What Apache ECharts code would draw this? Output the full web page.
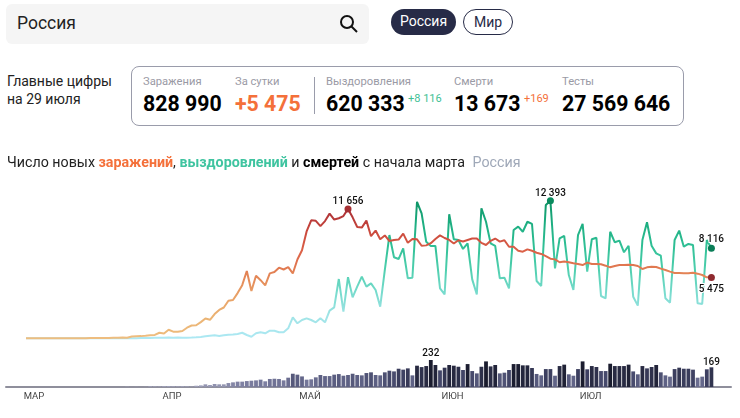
<!DOCTYPE html>
<html>
<head>
<meta charset="utf-8">
<title>Коронавирус</title>
<script src="https://cdn.jsdelivr.net/npm/echarts@6/dist/echarts.min.js"></script>
<style>
  html, body { margin: 0; padding: 0; background: #fff; }
  body { width: 740px; height: 418px; position: relative; overflow: hidden; font-family: Roboto, sans-serif; color: #000; }
  .abs { position: absolute; white-space: nowrap; }
  #chart { position: absolute; left: 0; top: 170px; width: 740px; height: 248px; }
  .search { left: 6px; top: 4px; width: 363px; height: 40px; background: #f5f5f5; border-radius: 6px; }
  .search span { position: absolute; left: 11px; top: 8px; font-size: 17.5px; line-height: 22px; color: #222; }
  .search svg { position: absolute; left: 333px; top: 10px; }
  .btn { top: 9px; height: 26px; line-height: 25px; border-radius: 13px; text-align: center; font-size: 14px; box-sizing: border-box; }
  .on { left: 391px; width: 65px; background: #272b47; color: #fff; }
  .off { left: 463px; width: 50px; border: 1px solid #272b47; color: #272b47; }
  .lead { left: 7px; top: 72px; font-size: 14px; line-height: 18px; color: #222; }
  .box { left: 131px; top: 66px; width: 553px; height: 60px; box-sizing: border-box; border: 1px solid #9a9cab; border-radius: 8px; }
  .sep { left: 314px; top: 77px; width: 1px; height: 37px; background: #9a9cab; }
  .cap { top: 74px; font-size: 11.2px; line-height: 15px; color: #9a9aa5; }
  .num { top: 90px; font-size: 21.3px; line-height: 27px; font-weight: 700; }
  .add { top: 91px; font-size: 11px; line-height: 15px; }
  .head { left: 7px; top: 153px; font-size: 14.25px; line-height: 18px; color: #222; }
  .head b { font-weight: 700; }
</style>
</head>
<body>
<div id="chart"></div>

<div class="abs search">
  <span>Россия</span>
  <svg width="20" height="20" viewBox="0 0 20 20"><circle cx="8" cy="8" r="6" fill="none" stroke="#111" stroke-width="2"/><line x1="12.5" y1="12.5" x2="18" y2="18" stroke="#111" stroke-width="2"/></svg>
</div>
<div class="abs btn on">Россия</div>
<div class="abs btn off">Мир</div>

<div class="abs lead">Главные цифры<br>на 29 июля</div>
<div class="abs box"></div>
<div class="abs sep"></div>
<div class="abs cap" style="left:143px">Заражения</div>
<div class="abs cap" style="left:235px">За сутки</div>
<div class="abs cap" style="left:326px">Выздоровления</div>
<div class="abs cap" style="left:454px">Смерти</div>
<div class="abs cap" style="left:562px">Тесты</div>
<div class="abs num" style="left:143px">828 990</div>
<div class="abs num" style="left:235px;color:#f4703a">+5 475</div>
<div class="abs num" style="left:326px">620 333</div>
<div class="abs add" style="left:408px;color:#3fbf95">+8 116</div>
<div class="abs num" style="left:454px">13 673</div>
<div class="abs add" style="left:524px;color:#f4703a">+169</div>
<div class="abs num" style="left:562px">27 569 646</div>

<div class="abs head">Число новых <b style="color:#f4703a">заражений</b>, <b style="color:#3fc4a0">выздоровлений</b> и <b style="color:#000">смертей</b> с начала марта <span style="color:#9fa8b8;margin-left:4px">Россия</span></div>

<script>
// daily values, 2 march .. 29 july
const cases = [
  0,0,0,1,1,2,4,3,3,4,8,6,14,4,16,19,21,33,28,52,54,71,57,163,182,196,228,270,302,500,
  440,771,601,582,658,954,1154,1175,1459,1786,1667,2186,2558,2774,3388,3448,4070,4785,6060,4268,5642,5236,4774,5849,5966,6361,6198,6411,5841,7099,
  7933,9623,10633,10581,10102,10559,11231,10699,10817,11012,11656,10899,10028,9974,10598,9200,9709,8926,9263,8764,8849,8894,9434,8599,8946,8915,8338,8371,8572,8952,9268,
  9035,8863,8536,8831,8726,8855,8984,8985,8595,8404,8779,8987,8706,8835,8248,8246,7890,7800,8010,7890,7710,7600,7400,7170,7110,6850,6910,6850,6760,6700,
  6600,6814,6693,6693,6663,6543,6393,6513,6603,6603,6633,6603,6513,6243,6393,6453,6423,6273,6153,6003,5883,5883,5853,5853,5913,5823,5703,5492,5475
]
const recovered = [
  0,0,0,0,0,0,0,0,0,0,0,0,0,0,0,1,1,2,2,3,5,8,10,12,15,20,25,30,40,50,
  60,70,60,70,50,60,70,90,120,180,240,270,210,270,330,340,390,500,297,144,450,540,450,685,685,540,540,900,1890,1350,
  1650,1800,1650,1440,1800,1440,2490,2790,5340,2400,5500,3690,4650,5550,4650,4950,4350,2850,6150,9300,7300,7140,8100,5400,5460,12300,11260,8700,8320,8320,4500,
  3960,11170,8920,8850,8050,8560,5310,3960,11710,10500,8560,8320,5400,5460,4500,9760,10060,9600,10500,10300,5160,4710,12000,12393,6300,9000,9220,5700,4350,9300,
  10300,6000,8920,9060,3810,3600,9600,8650,8800,7750,8340,3750,2940,8850,10450,8340,7650,7440,3600,3200,8850,9700,8250,8500,8400,3150,3090,8850,8116
]
const deaths = [
  0,0,0,0,0,0,0,0,0,0,0,0,0,0,0,0,0,0,0,0,0,0,2,0,1,0,1,6,5,4,
  7,8,6,5,7,5,3,11,14,23,17,26,23,23,34,40,46,46,51,54,57,63,49,69,71,69,57,80,114,106,
  91,63,66,83,103,94,94,106,111,97,103,114,103,100,120,126,103,100,126,140,134,157,149,160,100,183,171,180,232,189,143,
  166,189,183,174,146,197,137,117,174,220,177,189,117,123,146,197,197,186,186,163,112,100,154,154,97,180,192,109,97,154,
  220,152,180,172,137,137,200,180,180,180,192,134,109,180,160,172,189,126,100,89,154,166,157,157,149,80,89,152,169
]
const monthTicks = [0, 30, 60, 91, 121]
const monthLabels = ['МАР', 'АПР', 'МАЙ', 'ИЮН', 'ИЮЛ']

const caseColors = ['#eebd7f', '#ebb373', '#e8a066', '#e38355', '#dc6248', '#c9473c', '#aa3037']
const recoveredColors = ['#ade8f3', '#a0e4e6', '#77dbcd', '#4fcfae', '#30c096', '#1dae81', '#0e9466']
const deathColors = ['#a6a8c0', '#7c7ea0', '#5f6285', '#3f4263', '#1a1c2e']

const pairs = arr => arr.map((v, i) => [i, v])
const fmt = v => String(v).replace(/\B(?=(\d{3})+$)/g, '\u00a0')
const last = cases.length - 1

// a dot with a number on it, placed on the series' own point
function mark(arr, i, color, position, distance) {
  return {
    coord: [i, arr[i]],
    name: fmt(arr[i]),
    symbol: 'circle',
    symbolSize: color ? 7 : 0,
    itemStyle: { color: color || 'transparent' },
    label: {
      show: true,
      formatter: '{b}',
      position: position,
      distance: distance,
      color: '#111',
      fontSize: 10,
      fontWeight: 500,
      fontFamily: 'Roboto',
      textBorderColor: '#fff',
      textBorderWidth: 2
    }
  }
}

const chart = echarts.init(document.getElementById('chart'))
chart.setOption({
  animation: false,
  grid: { left: 6, right: 9, top: 10, bottom: 31 },
  xAxis: {
    type: 'value',
    min: -4.35,
    max: 153.26,
    splitLine: { show: false },
    axisLine: { show: true, onZero: false, lineStyle: { color: '#8f8f9c', width: 2 } },
    axisTick: { show: false },
    axisLabel: {
      customValues: monthTicks,
      formatter: v => monthLabels[monthTicks.indexOf(v)],
      color: '#444',
      fontSize: 9.5,
      fontFamily: 'Roboto',
      margin: 5,
      padding: [0, 0, 0, 16]
    }
  },
  yAxis: [
    { type: 'value', min: -4387, max: 14260, show: false },
    { type: 'value', min: 0, max: 1778, show: false }
  ],
  visualMap: [
    { show: false, type: 'continuous', seriesIndex: 0, dimension: 1, min: 0, max: 12393, inRange: { color: recoveredColors } },
    { show: false, type: 'continuous', seriesIndex: 1, dimension: 1, min: 0, max: 11656, inRange: { color: caseColors } },
    { show: false, type: 'continuous', seriesIndex: 2, dimension: 1, min: 0, max: 200, inRange: { color: deathColors } }
  ],
  series: [
    {
      name: 'выздоровления',
      type: 'line',
      yAxisIndex: 0,
      data: pairs(recovered),
      showSymbol: false,
      lineStyle: { width: 2 },
      markPoint: {
        silent: true,
        data: [
          mark(recovered, recovered.indexOf(Math.max(...recovered)), '#0a8a5e', 'top', -1),
          mark(recovered, last, '#0a7d57', 'top', 0)
        ]
      }
    },
    {
      name: 'заражения',
      type: 'line',
      yAxisIndex: 0,
      data: pairs(cases),
      showSymbol: false,
      lineStyle: { width: 2 },
      markPoint: {
        silent: true,
        data: [
          mark(cases, cases.indexOf(Math.max(...cases)), '#a52f33', 'top', -1),
          mark(cases, last, '#8f2a2f', 'bottom', 3)
        ]
      }
    },
    {
      name: 'смерти',
      type: 'bar',
      yAxisIndex: 1,
      data: pairs(deaths),
      barWidth: 3.8,
      markPoint: {
        silent: true,
        data: [
          mark(deaths, deaths.indexOf(Math.max(...deaths)), null, 'top', 1),
          mark(deaths, last, null, 'top', 0)
        ]
      }
    }
  ]
})
</script>
</body>
</html>
